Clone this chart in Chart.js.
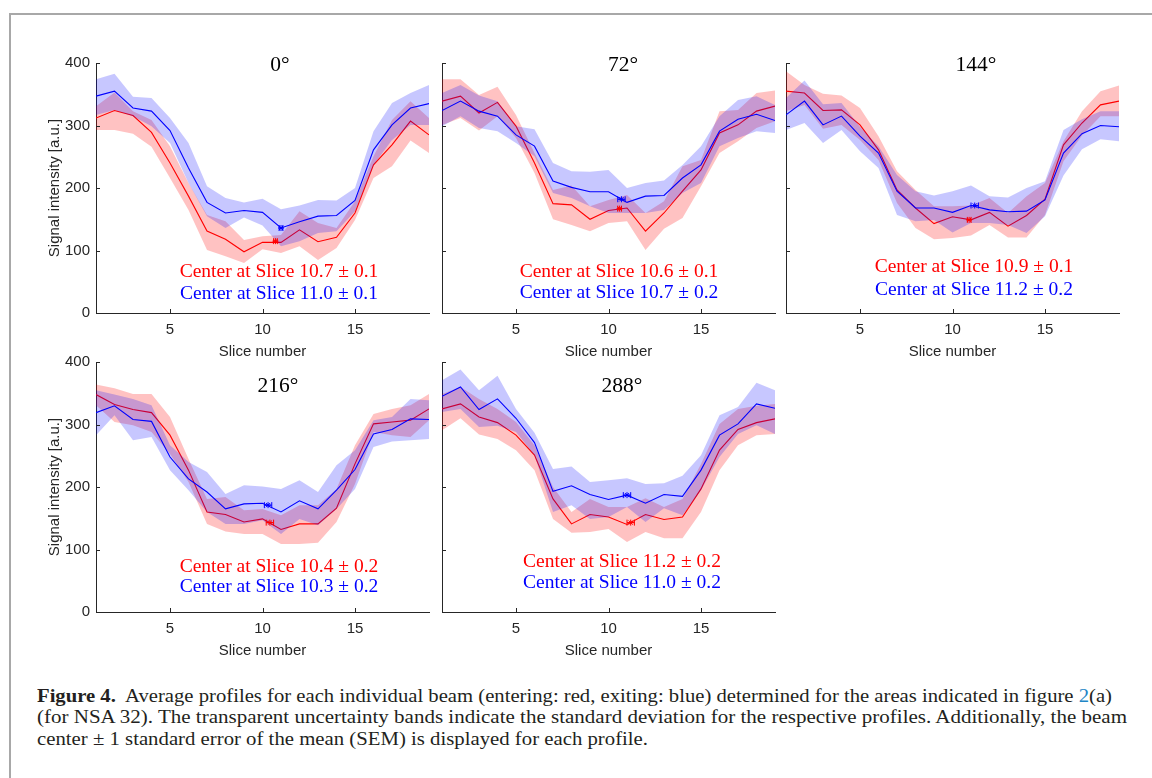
<!DOCTYPE html>
<html lang="en">
<head>
<meta charset="UTF-8">
<title>Figure 4</title>
<style>
  body { margin: 0; background: #fff; width: 1152px; height: 778px; position: relative; overflow: hidden; }
  .frame { position: absolute; left: 9px; top: 13px; right: -4px; bottom: -4px; border-left: 2px solid #a8a8a8; border-top: 2px solid #a8a8a8; }
  canvas { position: absolute; }
  .cap { position: absolute; left: 37px; font-family: "Liberation Serif", serif; font-size: 18.5px; line-height: 20px; color: #231f20; white-space: nowrap; transform-origin: 0 0; }
  .cap .ref { color: #1f86c6; }
</style>
</head>
<body>
<div class="frame"></div>
<canvas id="c0" width="398" height="327" style="left:36px; top:43px;"></canvas>
<canvas id="c1" width="344" height="327" style="left:436px; top:43px;"></canvas>
<canvas id="c2" width="344" height="327" style="left:780px; top:43px;"></canvas>
<canvas id="c3" width="398" height="327" style="left:36px; top:342px;"></canvas>
<canvas id="c4" width="344" height="327" style="left:436px; top:342px;"></canvas>

<div class="cap" id="l1" style="top:686px;"><b>Figure 4.</b>&nbsp; Average profiles for each individual beam (entering: red, exiting: blue) determined for the areas indicated in figure <span class="ref">2</span>(a)</div>
<div class="cap" id="l2" style="top:707px;">(for NSA 32). The transparent uncertainty bands indicate the standard deviation for the respective profiles. Additionally, the beam</div>
<div class="cap" id="l3" style="top:729px;">center &plusmn; 1 standard error of the mean (SEM) is displayed for each profile.</div>

<script src="https://cdn.jsdelivr.net/npm/chart.js"></script>
<script>
// slice numbers (x axis)
const slices = [1, 2, 3, 4, 5, 6, 7, 8, 9, 10, 11, 12, 13, 14, 15, 16, 17, 18, 19];
const xTicks = [5, 10, 15];
const angles = ['0°', '72°', '144°', '216°', '288°'];

// 0 deg
const red0     = [312, 324, 316, 289, 240, 187, 131, 118, 98, 113, 113, 133, 114, 121, 160, 237, 269, 307, 285];
const red0Lo   = [293, 293, 287, 266, 216, 165, 101, 91, 80, 102, 96, 107, 85, 104, 149, 216, 235, 276, 256];
const red0Hi   = [331, 353, 323, 309, 267, 208, 157, 147, 117, 123, 125, 163, 144, 136, 179, 251, 309, 339, 312];
const blue0    = [347, 355, 328, 323, 292, 232, 177, 160, 164, 161, 136, 146, 155, 156, 180, 261, 301, 328, 335];
const blue0Lo  = [317, 325, 315, 299, 272, 208, 155, 136, 153, 140, 107, 115, 128, 131, 163, 237, 277, 301, 301];
const blue0Hi  = [374, 383, 346, 344, 312, 272, 203, 184, 177, 183, 166, 172, 181, 180, 200, 291, 336, 352, 365];

// 72 deg
const red72    = [339, 347, 320, 337, 299, 240, 175, 173, 150, 164, 168, 131, 160, 195, 229, 288, 301, 323, 331];
const red72Lo  = [301, 312, 292, 315, 280, 224, 150, 141, 131, 144, 147, 101, 135, 152, 203, 256, 275, 296, 307];
const red72Hi  = [374, 374, 349, 362, 317, 256, 197, 204, 171, 181, 189, 160, 179, 235, 245, 323, 325, 352, 356];
const blue72   = [324, 339, 323, 315, 285, 267, 211, 201, 194, 194, 177, 187, 188, 216, 237, 291, 310, 318, 308];
const blue72Lo = [299, 315, 296, 291, 272, 251, 192, 184, 171, 160, 160, 160, 165, 192, 208, 267, 280, 291, 288];
const blue72Hi = [352, 365, 348, 339, 299, 294, 240, 227, 226, 229, 200, 208, 212, 237, 267, 315, 341, 347, 333];

// 144 deg
const red144    = [355, 352, 324, 325, 301, 261, 197, 168, 143, 154, 149, 161, 139, 156, 182, 269, 304, 333, 339];
const red144Lo  = [323, 333, 295, 301, 277, 245, 176, 136, 118, 120, 124, 141, 121, 121, 157, 243, 284, 315, 315];
const red144Hi  = [387, 365, 351, 348, 328, 283, 227, 197, 171, 171, 172, 184, 160, 187, 208, 275, 323, 355, 364];
const blue144   = [317, 339, 301, 315, 283, 256, 195, 168, 168, 161, 172, 165, 162, 163, 181, 256, 287, 300, 298];
const blue144Lo = [293, 304, 272, 293, 259, 232, 157, 147, 149, 129, 144, 144, 141, 128, 155, 220, 262, 278, 275];
const blue144Hi = [344, 372, 334, 336, 298, 267, 221, 195, 188, 195, 204, 187, 185, 200, 211, 293, 310, 323, 323];

// 216 deg
const red216    = [348, 332, 324, 319, 283, 227, 160, 156, 144, 149, 132, 141, 141, 166, 237, 301, 304, 307, 325];
const red216Lo  = [331, 304, 299, 288, 253, 208, 141, 129, 125, 125, 109, 109, 111, 144, 205, 288, 283, 280, 307];
const red216Hi  = [364, 358, 349, 349, 312, 245, 181, 184, 163, 165, 155, 171, 171, 197, 267, 317, 325, 331, 349];
const blue216   = [319, 330, 308, 305, 248, 213, 192, 165, 173, 174, 160, 178, 165, 195, 228, 285, 292, 309, 308];
const blue216Lo = [283, 315, 275, 280, 227, 195, 160, 141, 141, 147, 125, 149, 139, 165, 197, 264, 273, 275, 277];
const blue216Hi = [355, 348, 341, 331, 267, 240, 224, 189, 203, 201, 197, 211, 192, 235, 259, 307, 312, 341, 339];

// 288 deg
const red288    = [325, 333, 312, 303, 283, 251, 181, 141, 156, 152, 140, 156, 148, 152, 197, 259, 292, 303, 309];
const red288Lo  = [291, 310, 284, 277, 259, 227, 149, 127, 128, 133, 112, 128, 118, 118, 160, 227, 267, 283, 285];
const red288Hi  = [349, 360, 341, 325, 304, 267, 200, 160, 181, 168, 168, 182, 168, 181, 237, 301, 325, 330, 333];
const blue288   = [345, 360, 324, 341, 310, 271, 193, 202, 188, 180, 187, 174, 188, 185, 227, 283, 301, 333, 326];
const blue288Lo = [320, 325, 296, 298, 288, 251, 160, 171, 149, 152, 168, 144, 166, 155, 195, 248, 285, 299, 285];
const blue288Hi = [371, 388, 355, 378, 325, 287, 229, 233, 208, 211, 214, 205, 206, 218, 251, 315, 328, 367, 355];

// beam centres +- SEM (one entry per angle)
const redCenter   = [10.7, 10.6, 10.9, 10.4, 11.2];
const redSem      = [0.1, 0.1, 0.1, 0.2, 0.2];
const redCenterY  = [115, 167, 149, 143, 143];
const blueCenter  = [11.0, 10.7, 11.2, 10.3, 11.0];
const blueSem     = [0.1, 0.2, 0.2, 0.2, 0.2];
const blueCenterY = [136, 182, 172, 171, 187];

const redMeans = [red0, red72, red144, red216, red288];
const redLows = [red0Lo, red72Lo, red144Lo, red216Lo, red288Lo];
const redHighs = [red0Hi, red72Hi, red144Hi, red216Hi, red288Hi];
const blueMeans = [blue0, blue72, blue144, blue216, blue288];
const blueLows = [blue0Lo, blue72Lo, blue144Lo, blue216Lo, blue288Lo];
const blueHighs = [blue0Hi, blue72Hi, blue144Hi, blue216Hi, blue288Hi];

// text placement inside each panel (offset from plot area top-left, px)
const titlePos = [[184, 8], [181, 8], [190, 8], [182, 30], [180, 30]];
const notePos = [[183, 214, 236], [177, 214, 235], [188, 209, 232], [183, 210, 230], [180, 205, 226]];
const labeled = [true, false, false, true, false];

const RED = '#ff0000', BLUE = '#0000ff';
const RED_BAND = 'rgba(255,0,0,0.24)', BLUE_BAND = 'rgba(0,0,255,0.22)';
const AXIS = '#262626';
const sans = 'Liberation Sans';

function pts(arr) {
    return arr.map((v, i) => ({x: slices[i], y: v}));
}

// ticks pointing into the axes, MATLAB style
const inTicks = {
    id: 'inTicks',
    afterDraw(chart) {
        const {ctx, chartArea: a, scales} = chart;
        ctx.save();
        ctx.strokeStyle = AXIS;
        ctx.lineWidth = 1;
        ctx.beginPath();
        scales.x.ticks.forEach(t => {
            const px = Math.round(scales.x.getPixelForValue(t.value)) + 0.5;
            ctx.moveTo(px, a.bottom);
            ctx.lineTo(px, a.bottom - 4);
        });
        scales.y.ticks.forEach(t => {
            const py = Math.round(scales.y.getPixelForValue(t.value)) + 0.5;
            ctx.moveTo(a.left, py);
            ctx.lineTo(a.left + 4, py);
        });
        ctx.stroke();
        ctx.restore();
    }
};

// angle title + centre notes
const panelText = {
    id: 'panelText',
    afterDraw(chart, args, opts) {
        const {ctx, chartArea: a} = chart;
        ctx.save();
        ctx.textAlign = 'center';
        ctx.textBaseline = 'alphabetic';
        ctx.fillStyle = '#000';
        ctx.font = '21.5px "Liberation Serif"';
        ctx.fillText(opts.title, a.left + opts.titleAt[0], a.top + opts.titleAt[1]);
        ctx.font = '19.5px "Liberation Serif"';
        ctx.fillStyle = RED;
        ctx.fillText(opts.redNote, a.left + opts.noteAt[0], a.top + opts.noteAt[1]);
        ctx.fillStyle = BLUE;
        ctx.fillText(opts.blueNote, a.left + opts.noteAt[0], a.top + opts.noteAt[2]);
        ctx.restore();
    }
};

function note(c, e) {
    return 'Center at Slice ' + c.toFixed(1) + ' \u00b1 ' + e.toFixed(1);
}

function f_panel(i) {
    const lab = labeled[i];
    const datasets = [
        {data: [{x: blueCenter[i], y: blueCenterY[i]}], pointStyle: 'star', pointRadius: 3, borderColor: BLUE, borderWidth: 1, showLine: false},
        {data: [{x: blueCenter[i] - blueSem[i], y: blueCenterY[i]}, {x: blueCenter[i] + blueSem[i], y: blueCenterY[i]}],
            borderColor: BLUE, borderWidth: 1, pointStyle: 'line', rotation: 90, pointRadius: 3, pointBorderWidth: 1},
        {data: [{x: redCenter[i], y: redCenterY[i]}], pointStyle: 'star', pointRadius: 3, borderColor: RED, borderWidth: 1, showLine: false},
        {data: [{x: redCenter[i] - redSem[i], y: redCenterY[i]}, {x: redCenter[i] + redSem[i], y: redCenterY[i]}],
            borderColor: RED, borderWidth: 1, pointStyle: 'line', rotation: 90, pointRadius: 3, pointBorderWidth: 1},
        {data: pts(blueMeans[i]), borderColor: BLUE, borderWidth: 1.1, pointRadius: 0},
        {data: pts(blueHighs[i]), borderWidth: 0, pointRadius: 0, backgroundColor: BLUE_BAND, fill: '+1'},
        {data: pts(blueLows[i]), borderWidth: 0, pointRadius: 0},
        {data: pts(redMeans[i]), borderColor: RED, borderWidth: 1.1, pointRadius: 0},
        {data: pts(redHighs[i]), borderWidth: 0, pointRadius: 0, backgroundColor: RED_BAND, fill: '+1'},
        {data: pts(redLows[i]), borderWidth: 0, pointRadius: 0}
    ];

    new Chart(document.getElementById('c' + i), {
        type: 'line',
        data: {datasets: datasets},
        options: {
            responsive: false,
            animation: false,
            events: [],
            layout: {padding: {top: 20, right: 4, left: 0, bottom: 0}},
            elements: {line: {tension: 0}},
            plugins: {
                legend: {display: false},
                tooltip: {enabled: false},
                panelText: {
                    title: angles[i],
                    titleAt: titlePos[i],
                    noteAt: notePos[i],
                    redNote: note(redCenter[i], redSem[i]),
                    blueNote: note(blueCenter[i], blueSem[i])
                }
            },
            scales: {
                x: {
                    type: 'linear', min: 1, max: 19,
                    afterBuildTicks: s => { s.ticks = xTicks.map(v => ({value: v})); },
                    afterFit: s => { s.height = 57; },
                    grid: {display: false, drawTicks: false},
                    border: {display: true, color: AXIS, width: 1},
                    ticks: {padding: 8, color: AXIS, font: {family: sans, size: 15}},
                    title: {display: true, text: 'Slice number', color: AXIS, font: {family: sans, size: 15}, padding: {top: 0, bottom: 9}}
                },
                y: {
                    type: 'linear', min: 0, max: 400,
                    afterFit: s => { s.width = lab ? 60 : 6; },
                    grid: {display: false, drawTicks: false},
                    border: {display: true, color: AXIS, width: 1},
                    ticks: {display: lab, stepSize: 100, padding: 6, color: AXIS, font: {family: sans, size: 15}},
                    title: {display: lab, text: 'Signal intensity [a.u.]', color: AXIS, font: {family: sans, size: 15}, padding: {top: 10, bottom: 0}}
                }
            }
        },
        plugins: [inTicks, panelText]
    });
}

for (let i = 0; i < 5; i++) {
    f_panel(i);
}

// squeeze caption lines to the widths in the printed figure
const capWidths = {l1: 1075, l2: 1090, l3: 611};
Object.keys(capWidths).forEach(id => {
    const el = document.getElementById(id);
    const w = el.getBoundingClientRect().width;
    el.style.transform = 'scaleX(' + (capWidths[id] / w) + ')';
});
</script>
</body>
</html>
